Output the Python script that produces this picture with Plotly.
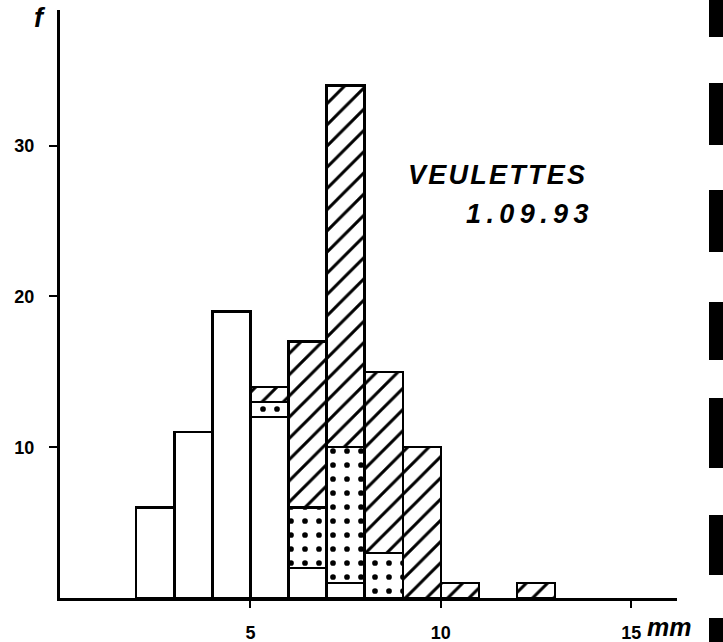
import plotly.graph_objects as go

# Data (size classes in mm, frequencies)
bin_left = [2, 3, 4, 5, 6, 7, 8, 9, 10, 12]
white_f = [6, 11, 19, 12, 2, 1, 0, 0, 0, 0]
dotted_f = [0, 0, 0, 1, 4, 9, 3, 0, 0, 0]
hatched_f = [0, 0, 0, 1, 11, 24, 12, 10, 1, 1]
x_ticks = [5, 10, 15]
y_ticks = [10, 20, 30]

centers = [b + 0.5 for b in bin_left]

def nz(v):
    return [a if a > 0 else None for a in v]

W, H = 723, 642
ML, MR, MT, MB = 60, 46, 10, 44

line = dict(color="black", width=2.5)
fig = go.Figure()
fig.add_bar(x=centers, y=nz(white_f), width=1,
            marker=dict(color="white", line=line), name="a")
fig.add_bar(x=centers, y=nz(dotted_f), width=1,
            marker=dict(color="white", line=line,
                        pattern=dict(shape=".", fgcolor="black", bgcolor="white", fgopacity=1,
                                     size=14, solidity=0.13, fillmode="overlay")),
            name="b")
fig.add_bar(x=centers, y=nz(hatched_f), width=1,
            marker=dict(color="white", line=line,
                        pattern=dict(shape="/", fgcolor="black", bgcolor="white", fgopacity=1,
                                     size=15, solidity=0.2, fillmode="overlay")),
            name="c")

FAM = "Liberation Sans, Arial, sans-serif"
font_lab = dict(family=FAM, size=18, color="black")

fig.update_layout(
    width=W, height=H, barmode="stack", showlegend=False,
    plot_bgcolor="white", paper_bgcolor="white",
    margin=dict(l=ML, r=MR, t=MT, b=MB),
    xaxis=dict(range=[0, 16.2], tickvals=x_ticks, ticktext=["<b>%d</b>" % v for v in x_ticks],
               showline=True, linecolor="black", linewidth=2.5, ticks="outside",
               ticklen=7, tickwidth=2, tickcolor="black", showgrid=False, zeroline=False,
               tickfont=font_lab, ticklabelstandoff=10, automargin=False),
    yaxis=dict(range=[0, 39], tickvals=y_ticks, ticktext=["<b>%d</b>" % v for v in y_ticks],
               showline=True, linecolor="black", linewidth=3, ticks="outside",
               ticklen=8, tickwidth=2, tickcolor="black", showgrid=False, zeroline=False,
               tickfont=font_lab, ticklabelstandoff=11, automargin=False),
)

pw = W - ML - MR
ph = H - MT - MB
def px(x):
    return (x - ML) / pw
def py(y):
    return 1 - (y - MT) / ph

tfont = dict(family=FAM, size=27, color="black")
hs = "&#8202;"
ts = "&#8201;"
fig.add_annotation(x=11.47, y=28.05, xref="x", yref="y",
                   text="<b><i>" + hs.join("VEULETTES") + "</i></b>",
                   showarrow=False, font=tfont, xanchor="center", yanchor="middle")
fig.add_annotation(x=13.95, y=25.5, xref="x", yref="y",
                   text="<b><i>" + ts.join("1.09.93") + "</i></b>",
                   showarrow=False, font=tfont, xanchor="right", yanchor="middle")
fig.add_annotation(x=px(40), y=py(18), xref="paper", yref="paper", text="<b><i>f</i></b>",
                   showarrow=False, font=tfont, xanchor="center", yanchor="middle")
fig.add_annotation(x=px(645), y=py(627), xref="paper", yref="paper", text="<b><i>mm</i></b>",
                   showarrow=False, font=dict(family=FAM, size=25, color="black"),
                   xanchor="left", yanchor="middle")

# scanning artefacts on the right page edge
for (y0, y1) in [(0, 37), (83, 145), (190, 252), (302, 360), (398, 468), (515, 575), (618, 642)]:
    fig.add_shape(type="rect", xref="paper", yref="paper",
                  x0=px(709), x1=px(730), y0=py(y1), y1=py(y0),
                  fillcolor="black", line=dict(width=0), layer="above")

fig.write_html("out.html")
